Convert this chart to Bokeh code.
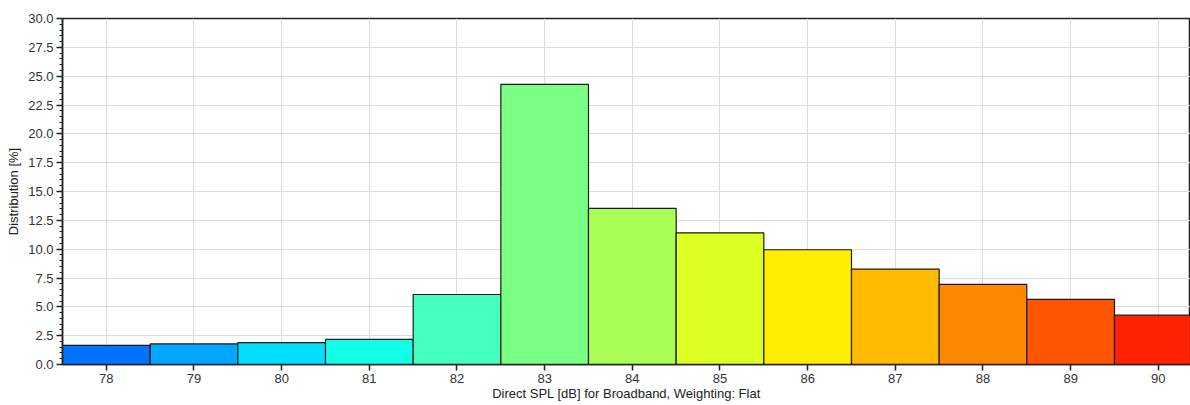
from bokeh.plotting import figure
from bokeh.models import ColumnDataSource, FixedTicker, Range1d, CustomJSTickFormatter
from bokeh.embed import file_html
from bokeh.resources import INLINE

spl_db = [78, 79, 80, 81, 82, 83, 84, 85, 86, 87, 88, 89, 90]
distribution = [1.65, 1.78, 1.90, 2.17, 6.07, 24.28, 13.53, 11.42, 9.95, 8.27, 6.94, 5.64, 4.28]
bar_colors = ["#0073FF", "#00A6FF", "#00DDFF", "#11FFE6", "#44FFBF", "#7AFF85",
              "#AAFF55", "#DDFF22", "#FFEE00", "#FFBB00", "#FF8800", "#FF5500", "#FF2200"]
y_ticks = [0.0, 2.5, 5.0, 7.5, 10.0, 12.5, 15.0, 17.5, 20.0, 22.5, 25.0, 27.5, 30.0]

src = ColumnDataSource(dict(x=spl_db, top=distribution, color=bar_colors))

FONT = "Liberation Sans"

p = figure(width=1190, height=405, output_backend="svg", toolbar_location=None,
           x_range=Range1d(77.5, 90.367), y_range=Range1d(0, 30),
           min_border_left=62, min_border_right=0, min_border_top=18, min_border_bottom=41)

p.vbar(x="x", top="top", bottom=0, width=1.0, fill_color="color",
       line_color="#1a1a1a", line_width=1.2, source=src)

p.background_fill_color = "white"
p.border_fill_color = "white"
p.outline_line_color = "#222222"
p.outline_line_width = 1.5

p.xaxis.ticker = FixedTicker(ticks=spl_db)
p.yaxis.ticker = FixedTicker(ticks=y_ticks, minor_ticks=[i * 0.5 for i in range(61)])
p.yaxis.formatter = CustomJSTickFormatter(code="return tick.toFixed(1);")

for ax in (p.xaxis[0], p.yaxis[0]):
    ax.axis_line_color = "#222222"
    ax.axis_line_width = 1.5
    ax.major_tick_line_color = "#222222"
    ax.major_tick_line_width = 1.5
    ax.major_tick_out = 6
    ax.major_tick_in = 0
    ax.major_label_text_font = FONT
    ax.major_label_text_font_size = "13px"
    ax.major_label_text_color = "#333333"
    ax.axis_label_text_font = FONT
    ax.axis_label_text_font_size = "13px"
    ax.axis_label_text_color = "#222222"
    ax.axis_label_text_font_style = "normal"

p.yaxis.minor_tick_line_color = "#222222"
p.yaxis.minor_tick_line_width = 1.2
p.yaxis.minor_tick_out = 3
p.yaxis.minor_tick_in = 0
p.yaxis.major_label_standoff = 3
p.yaxis.axis_label = "Distribution [%]"
p.yaxis.axis_label_standoff = 4

p.xaxis.minor_tick_line_color = None
p.xaxis.major_label_standoff = 3
p.xaxis.axis_label = "Direct SPL [dB] for Broadband, Weighting: Flat"
p.xaxis.axis_label_standoff = 0

p.xgrid.ticker = FixedTicker(ticks=spl_db)
p.grid.grid_line_color = "#DDDDDD"
p.grid.grid_line_width = 1

open("out.html", "w").write(file_html(p, INLINE))
